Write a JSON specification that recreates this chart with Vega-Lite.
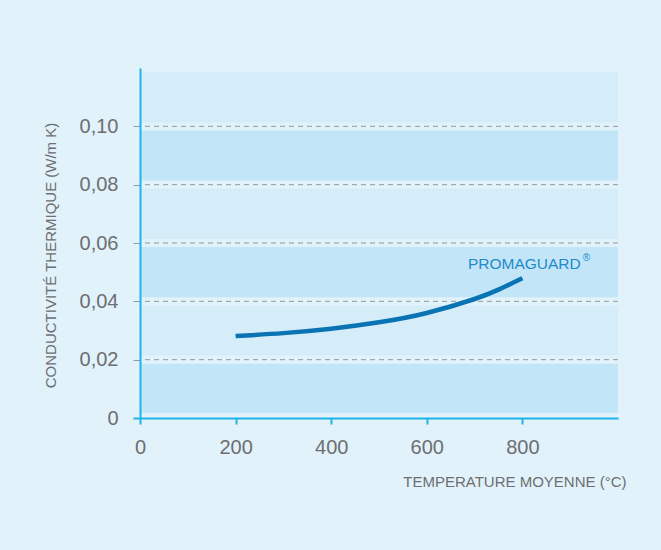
{
  "$schema": "https://vega.github.io/schema/vega-lite/v6.json",
  "width": 478,
  "height": 350,
  "autosize": {"type": "none"},
  "padding": {"left": 140, "top": 68, "right": 43, "bottom": 132},
  "background": "#e1f2fa",
  "config": {
    "view": {"stroke": null},
    "font": "Liberation Sans",
    "axis": {"labelFlush": false}
  },
  "datasets": {
    "bands": [
      {"lo": 0.1014, "hi": 0.1186, "shade": "light"},
      {"lo": 0.0814, "hi": 0.0986, "shade": "dark"},
      {"lo": 0.0614, "hi": 0.0786, "shade": "light"},
      {"lo": 0.0414, "hi": 0.0586, "shade": "dark"},
      {"lo": 0.0214, "hi": 0.0386, "shade": "light"},
      {"lo": 0.0017, "hi": 0.0186, "shade": "dark"}
    ],
    "grid": [
      {"v": 0.02}, {"v": 0.04}, {"v": 0.06}, {"v": 0.08}, {"v": 0.10}
    ],
    "curve": [
      {"t": 200, "k": 0.0281},
      {"t": 300, "k": 0.0291},
      {"t": 400, "k": 0.0306},
      {"t": 500, "k": 0.0328},
      {"t": 600, "k": 0.0360},
      {"t": 700, "k": 0.0408},
      {"t": 750, "k": 0.0440},
      {"t": 800, "k": 0.0479}
    ],
    "labels": [
      {"t": 686, "k": 0.0511, "txt": "PROMAGUARD", "size": "big"},
      {"t": 926, "k": 0.0538, "txt": "®", "size": "small"}
    ]
  },
  "layer": [
    {
      "data": {"name": "bands"},
      "mark": {"type": "rect"},
      "encoding": {
        "y": {
          "field": "lo", "type": "quantitative",
          "scale": {"domain": [0, 0.12], "nice": false},
          "axis": {
            "zindex": 2,
            "values": [0, 0.02, 0.04, 0.06, 0.08, 0.1],
            "title": "CONDUCTIVITÉ THERMIQUE (W/m K)",
            "titleFont": "Liberation Sans",
            "titleFontSize": 15,
            "titleFontWeight": "normal",
            "titleColor": "#6d6e71",
            "titleX": -90,
            "titleY": 187,
            "titleAngle": -90,
            "titleBaseline": "middle",
            "titleAlign": "center",
            "labelExpr": "datum.value == 0 ? '0' : replace(format(datum.value, '.2f'), '.', ',')",
            "labelFontSize": 20,
            "labelColor": "#6d6e71",
            "labelPadding": 15,
            "tickSize": 7,
            "tickColor": {"condition": {"test": "datum.value == 0", "value": "#1fb3ea"}, "value": "#8f9ca3"},
            "tickWidth": {"condition": {"test": "datum.value == 0", "value": 2}, "value": 1},
            "domainColor": "#1fb3ea",
            "domainWidth": 2,
            "grid": false
          }
        },
        "y2": {"field": "hi"},
        "color": {
          "field": "shade", "type": "nominal",
          "scale": {"domain": ["light", "dark"], "range": ["#d5edf9", "#c2e6f8"]},
          "legend": null
        }
      }
    },
    {
      "data": {"name": "grid"},
      "mark": {"type": "rule", "color": "#8f9ca3", "strokeWidth": 1, "strokeDash": [5, 4]},
      "encoding": {
        "y": {"field": "v", "type": "quantitative"}
      }
    },
    {
      "data": {"name": "curve"},
      "mark": {"type": "line", "color": "#0a73b3", "strokeWidth": 4.5, "interpolate": "natural", "strokeCap": "butt"},
      "encoding": {
        "x": {
          "field": "t", "type": "quantitative",
          "scale": {"domain": [0, 1000], "nice": false},
          "axis": {
            "zindex": 2,
            "values": [0, 200, 400, 600, 800],
            "title": "TEMPERATURE MOYENNE (°C)",
            "titleFont": "Liberation Sans",
            "titleFontSize": 15,
            "titleFontWeight": "normal",
            "titleColor": "#6d6e71",
            "titleX": 486,
            "titleY": 68,
            "titleAlign": "right",
            "titleBaseline": "alphabetic",
            "labelFontSize": 20,
            "labelColor": "#6d6e71",
            "labelPadding": 13,
            "tickSize": 6,
            "tickWidth": 2,
            "tickColor": "#1fb3ea",
            "domainColor": "#1fb3ea",
            "domainWidth": 2,
            "grid": false
          }
        },
        "y": {"field": "k", "type": "quantitative"}
      }
    },
    {
      "data": {"name": "labels"},
      "mark": {"type": "text", "align": "left", "baseline": "alphabetic", "color": "#1e8ac8", "font": "Liberation Sans"},
      "encoding": {
        "x": {"field": "t", "type": "quantitative"},
        "y": {"field": "k", "type": "quantitative"},
        "text": {"field": "txt"},
        "size": {
          "field": "size", "type": "nominal",
          "scale": {"domain": ["big", "small"], "range": [15.5, 10]},
          "legend": null
        }
      }
    }
  ]
}
